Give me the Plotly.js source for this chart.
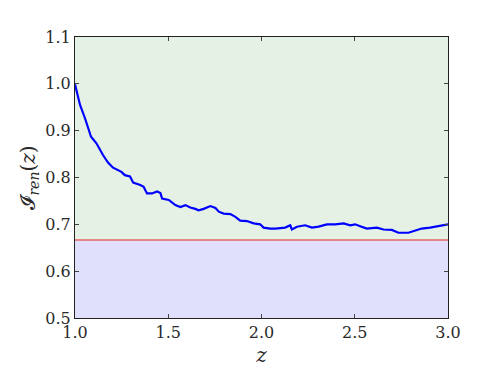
<!DOCTYPE html>
<html>
<head>
<meta charset="utf-8">
<script src="https://cdn.plot.ly/plotly-3.0.1.min.js"></script>
<style>
  html, body { margin: 0; padding: 0; background: #fff; }
  #chart { width: 498px; height: 374px; }
</style>
</head>
<body>
<div id="chart"></div>
<script>
// curve
const zValues = [1.000, 1.027, 1.054, 1.086, 1.115, 1.150, 1.177, 1.204, 1.249, 1.267,
    1.295, 1.312, 1.350, 1.368, 1.386, 1.413, 1.440, 1.458, 1.467, 1.503,
    1.538, 1.565, 1.592, 1.618, 1.645, 1.663, 1.690, 1.726, 1.753, 1.771,
    1.797, 1.833, 1.860, 1.886, 1.922, 1.958, 1.993, 2.011, 2.047, 2.074,
    2.127, 2.154, 2.163, 2.190, 2.234, 2.270, 2.306, 2.351, 2.395, 2.440,
    2.476, 2.502, 2.529, 2.565, 2.619, 2.654, 2.699, 2.734, 2.788, 2.815,
    2.859, 2.904, 2.948, 3.000];
const renValues = [0.999, 0.955, 0.926, 0.887, 0.873, 0.848, 0.832, 0.821, 0.812, 0.805,
    0.802, 0.789, 0.784, 0.780, 0.766, 0.766, 0.770, 0.767, 0.755, 0.752,
    0.741, 0.737, 0.741, 0.736, 0.733, 0.730, 0.733, 0.739, 0.735, 0.727,
    0.723, 0.722, 0.716, 0.708, 0.707, 0.702, 0.700, 0.693, 0.691, 0.691,
    0.693, 0.698, 0.689, 0.695, 0.698, 0.693, 0.695, 0.700, 0.700, 0.702,
    0.698, 0.700, 0.696, 0.691, 0.693, 0.689, 0.688, 0.682, 0.682, 0.686,
    0.691, 0.693, 0.696, 0.700];
const threshold = 2 / 3;
const xTicks = [1.0, 1.5, 2.0, 2.5, 3.0];
const yTicks = [0.5, 0.6, 0.7, 0.8, 0.9, 1.0, 1.1];
const xRange = [1.0, 3.0];
const yRange = [0.5, 1.1];

const serif = "DejaVu Serif";

const data = [
    {
        x: zValues,
        y: renValues,
        type: "scatter",
        mode: "lines",
        line: { color: "#0000ff", width: 2.2 },
        hoverinfo: "skip",
    },
];

const axisBase = {
    showgrid: false,
    zeroline: false,
    showline: true,
    linecolor: "#222",
    linewidth: 1,
    mirror: "ticks",
    ticks: "inside",
    ticklen: 4,
    tickwidth: 1,
    tickcolor: "#444",
    tickfont: { family: serif, size: 16, color: "#2a2a2a" },
};

const layout = {
    width: 498,
    height: 374,
    margin: { l: 75, r: 50, t: 37, b: 56 },
    paper_bgcolor: "#fff",
    plot_bgcolor: "#fff",
    showlegend: false,
    font: { family: serif, size: 16, color: "#2a2a2a" },
    xaxis: Object.assign({}, axisBase, {
        range: xRange,
        tickvals: xTicks,
        ticktext: xTicks.map((v) => v.toFixed(1)),
        title: { text: "<i>z</i>", font: { family: serif, size: 20, color: "#2a2a2a" }, standoff: 6 },
    }),
    yaxis: Object.assign({}, axisBase, {
        range: yRange,
        tickvals: yTicks,
        ticktext: yTicks.map((v) => v.toFixed(1)),
        title: { text: "𝓘<sub><i>ren</i></sub>(<i>z</i>)", font: { family: serif, size: 20, color: "#2a2a2a" }, standoff: 4 },
    }),
    shapes: [
        { type: "rect", xref: "paper", yref: "y", x0: 0, x1: 1, y0: threshold, y1: yRange[1],
          fillcolor: "rgb(229,241,229)", line: { width: 0 }, layer: "below" },
        { type: "rect", xref: "paper", yref: "y", x0: 0, x1: 1, y0: yRange[0], y1: threshold,
          fillcolor: "rgb(224,224,253)", line: { width: 0 }, layer: "below" },
        { type: "line", xref: "paper", yref: "y", x0: 0, x1: 1, y0: threshold, y1: threshold,
          line: { color: "rgb(232,100,100)", width: 1.5 }, layer: "below" },
    ],
};

Plotly.newPlot("chart", data, layout, { displayModeBar: false, staticPlot: true });
</script>
</body>
</html>
